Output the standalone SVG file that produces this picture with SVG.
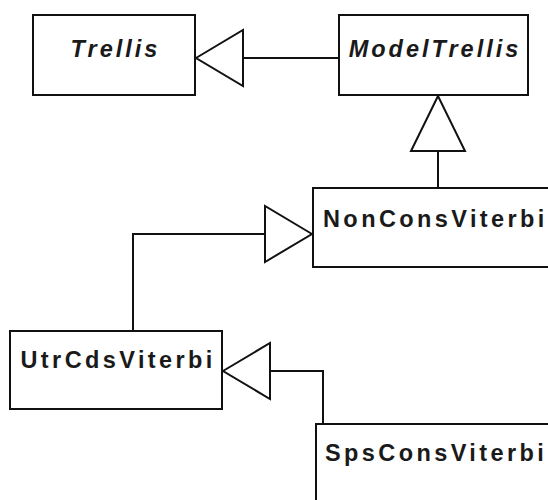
<svg xmlns="http://www.w3.org/2000/svg" width="548" height="500" viewBox="0 0 548 500">
  <style>
    .box { fill: #ffffff; stroke: #111111; stroke-width: 2; }
    .edge { fill: none; stroke: #111111; stroke-width: 2; }
    .head { fill: #ffffff; stroke: #111111; stroke-width: 2; stroke-linejoin: miter; }
    .name { font-family: "Liberation Sans", Arial, sans-serif; font-size: 23.5px; font-weight: bold; fill: #1a1a1a; letter-spacing: 3.4px; }
    .abstract { font-style: italic; text-anchor: middle; letter-spacing: 3px; }
  </style>
  <rect width="548" height="500" fill="#ffffff"/>

  <!-- inheritance connectors with hollow triangle heads -->
  <g id="connectors">
    <path class="edge" d="M243 58 H339"/>
    <polygon class="head" points="196,58 243,30 243,86"/>

    <path class="edge" d="M438 151 V188"/>
    <polygon class="head" points="438,96 411,151 465,151"/>

    <path class="edge" d="M265 234 H133 V331"/>
    <polygon class="head" points="312,234 265,206 265,262"/>

    <path class="edge" d="M270 371 H323 V424"/>
    <polygon class="head" points="223,371 270,343 270,399"/>
  </g>

  <g id="Trellis">
    <rect class="box" x="33" y="15" width="162" height="80"/>
    <text class="name abstract" x="115.5" y="57">Trellis</text>
  </g>

  <g id="ModelTrellis">
    <rect class="box" x="339" y="15" width="189" height="80"/>
    <text class="name abstract" x="435" y="57">ModelTrellis</text>
  </g>

  <g id="NonConsViterbi">
    <rect class="box" x="313" y="188" width="260" height="79"/>
    <text class="name" x="323" y="227">NonConsViterbi</text>
  </g>

  <g id="UtrCdsViterbi">
    <rect class="box" x="10" y="331" width="212" height="78"/>
    <text class="name" x="20.5" y="368">UtrCdsViterbi</text>
  </g>

  <g id="SpsConsViterbi">
    <rect class="box" x="316" y="424" width="260" height="100"/>
    <text class="name" x="325" y="461">SpsConsViterbi</text>
  </g>
</svg>
